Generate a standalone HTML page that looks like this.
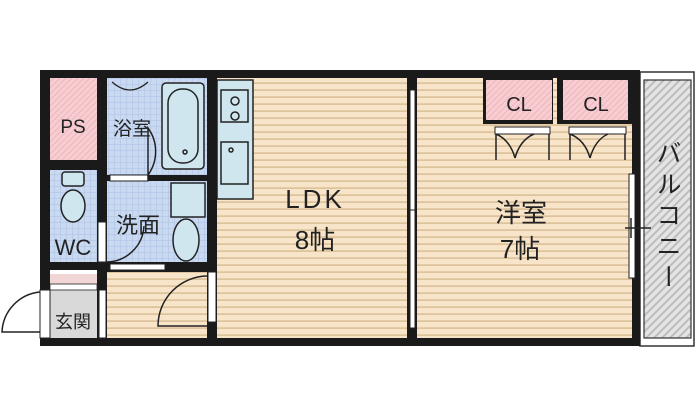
<!DOCTYPE html>
<html><head><meta charset="utf-8"><style>
html,body{margin:0;padding:0;background:#fff;width:700px;height:415px;overflow:hidden}
text{font-family:"Liberation Sans","Noto Sans CJK JP",sans-serif;fill:#222}
</style></head><body>
<svg width="700" height="415" viewBox="0 0 700 415" xmlns="http://www.w3.org/2000/svg">
<defs>
<pattern id="wood" width="8" height="7" patternUnits="userSpaceOnUse">
<rect width="8" height="7" fill="#f8e4c8"/><rect y="5.3" width="8" height="1.7" fill="#dcc39c"/>
</pattern>
<pattern id="tile" width="6" height="6" patternUnits="userSpaceOnUse">
<rect width="6" height="6" fill="#c9d9f0"/><path d="M0 0H6M0 0V6" stroke="#aac0e4" stroke-width="1"/>
</pattern>
<pattern id="pink" width="6" height="6" patternUnits="userSpaceOnUse">
<rect width="6" height="6" fill="#f7cdd2"/><path d="M0 6L6 0" stroke="#eeb6bd" stroke-width="1"/>
</pattern>
<pattern id="hatch" width="8" height="8" patternUnits="userSpaceOnUse">
<rect width="8" height="8" fill="#e4e4e4"/><path d="M0 8L8 0M-2 2L2 -2M6 10L10 6" stroke="#bdbdbd" stroke-width="2"/>
</pattern>
</defs>
<rect x="640" y="72" width="54" height="274" fill="#fff" stroke="#333" stroke-width="1.5"/>
<rect x="644" y="80" width="47" height="258" fill="url(#hatch)" stroke="#333" stroke-width="1.2"/>
<text x="667" y="140" font-size="25" style="writing-mode:vertical-rl" letter-spacing="6">バルコニー</text>
<rect x="40" y="70" width="600" height="276" fill="#1a1a1a"/>
<rect x="50" y="78" width="47" height="82" fill="url(#pink)"/>
<rect x="50" y="170" width="47" height="92" fill="url(#tile)"/>
<rect x="50" y="272" width="47" height="16" fill="#f2d6d6"/>
<rect x="50" y="290" width="47" height="48" fill="#d9d9d9"/>
<rect x="107" y="78" width="100" height="97" fill="url(#tile)"/>
<rect x="107" y="181" width="100" height="81" fill="url(#tile)"/>
<rect x="107" y="272" width="100" height="66" fill="url(#wood)"/>
<rect x="217" y="78" width="190" height="260" fill="url(#wood)"/>
<rect x="217" y="80" width="36" height="119" fill="#cfe6ee" stroke="#222" stroke-width="1.5"/>
<rect x="417" y="78" width="215" height="260" fill="url(#wood)"/>
<rect x="483" y="78" width="70" height="46" fill="#1a1a1a"/>
<rect x="486" y="80" width="66" height="40" fill="url(#pink)"/>
<rect x="557" y="78" width="75" height="46" fill="#1a1a1a"/>
<rect x="563" y="80" width="65" height="40" fill="url(#pink)"/>
<rect x="495" y="127" width="55" height="7" fill="#fff" stroke="#222"/>
<rect x="569" y="127" width="57" height="7" fill="#fff" stroke="#222"/>
<g fill="none" stroke="#222" stroke-width="1.5">
<path d="M496 160V134M496 134Q510 140 515 158M534 134Q520 140 515 158M549 160V134"/>
<path d="M570 160V134M570 134Q585 140 590 158M608 134Q595 140 590 158M625 160V134"/>
</g>
<text x="519" y="111" font-size="20" text-anchor="middle">CL</text>
<text x="596" y="111" font-size="20" text-anchor="middle">CL</text>
<rect x="97" y="78" width="10" height="260" fill="#1a1a1a"/>
<rect x="50" y="160" width="47" height="10" fill="#1a1a1a"/>
<rect x="50" y="262" width="158" height="10" fill="#1a1a1a"/>
<rect x="107" y="175" width="100" height="6" fill="#1a1a1a"/>
<rect x="207" y="78" width="10" height="260" fill="#1a1a1a"/>
<rect x="407" y="78" width="10" height="260" fill="#1a1a1a"/>
<rect x="110" y="175" width="38" height="6" fill="#fff" stroke="#222"/>
<rect x="110" y="264" width="55" height="6" fill="#fff" stroke="#222"/>
<rect x="98" y="222" width="8" height="40" fill="#fff" stroke="#222"/>
<rect x="99" y="290" width="7" height="48" fill="#fff" stroke="#222"/>
<rect x="208" y="272" width="8" height="50" fill="#fff" stroke="#222"/>
<rect x="410" y="90" width="5" height="120" fill="#fff" stroke="#222"/>
<rect x="410" y="210" width="5" height="118" fill="#fff" stroke="#222"/>
<rect x="629" y="174" width="6" height="104" fill="#fff" stroke="#222"/>
<rect x="40" y="290" width="10" height="48" fill="#fff" stroke="#222"/>
<rect x="50" y="270" width="47" height="4" fill="#fff"/>
<rect x="50" y="284" width="47" height="6" fill="#fff" stroke="#222" stroke-width="0.8"/>
<g fill="none" stroke="#222" stroke-width="1.5">
<path d="M40 292A42 42 0 0 0 2 332H40"/>
<path d="M207 276A50 50 0 0 0 158 326H207"/>
<path d="M148 181V128A40 40 0 0 1 148 175"/>
<path d="M106 262A38 38 0 0 0 144 226"/>
<path d="M625 228H651M631 218V238"/>
</g>
<g fill="#cfe6ee" stroke="#222" stroke-width="1.5">
<rect x="162" y="83" width="42" height="86" rx="4"/>
<rect x="168" y="89" width="30" height="74" rx="14"/>
<rect x="171" y="183" width="34" height="34"/>
<ellipse cx="186" cy="240" rx="13" ry="21"/>
<ellipse cx="73" cy="206" rx="12" ry="16"/>
<rect x="62" y="172" width="22" height="14" rx="3"/>
<rect x="221" y="90" width="27" height="32"/>
<rect x="221" y="142" width="27" height="42"/>
<circle cx="235" cy="101" r="4"/><circle cx="235" cy="116" r="4"/>
<circle cx="231" cy="150" r="2"/><circle cx="185" cy="152" r="2"/>
</g>
<path d="M112 82Q130 98 148 82" fill="none" stroke="#222" stroke-width="1.2"/>
<text x="73" y="133" font-size="19" text-anchor="middle">PS</text>
<text x="132" y="135" font-size="19" text-anchor="middle">浴室</text>
<text x="138" y="233" font-size="22" text-anchor="middle">洗面</text>
<text x="73" y="255" font-size="22" text-anchor="middle">WC</text>
<text x="73" y="328" font-size="18" text-anchor="middle">玄関</text>
<text x="315" y="208" font-size="26" text-anchor="middle" letter-spacing="3">LDK</text>
<text x="315" y="249" font-size="26" text-anchor="middle">8帖</text>
<text x="521" y="222" font-size="26" text-anchor="middle">洋室</text>
<text x="520" y="258" font-size="26" text-anchor="middle">7帖</text>
</svg>
</body></html>
